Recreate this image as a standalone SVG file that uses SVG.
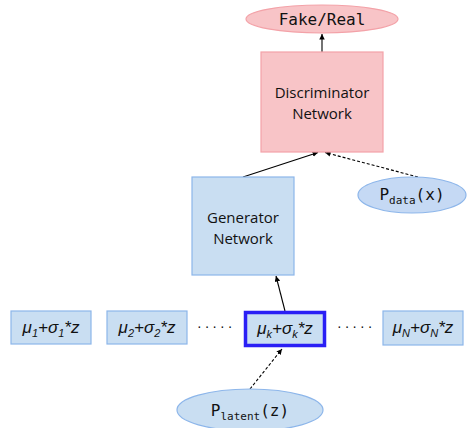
<svg xmlns="http://www.w3.org/2000/svg" width="467" height="428" viewBox="0 0 467 428">
<defs>
<marker id="ah" viewBox="0 0 10 10" refX="10" refY="5" markerWidth="5" markerHeight="5" orient="auto"><path d="M0,0 L10,5 L0,10 z" fill="#000"/></marker>
<style>
.pink{fill:#f8c4c7;stroke:#f3a2a8;stroke-width:1.2}
.blue{fill:#c9def2;stroke:#8db6ea;stroke-width:1.2}
.lbl{font-family:"Open Sans","Liberation Sans",sans-serif;font-size:15px;fill:#111;text-anchor:middle}
.mono{font-family:"DejaVu Sans Mono","Liberation Mono",monospace;font-size:16px;fill:#111;text-anchor:middle}
.math{font-family:"Liberation Sans",sans-serif;font-style:italic;font-size:17px;fill:#111;text-anchor:middle}
.dots{font-family:"Liberation Sans",sans-serif;font-size:14px;fill:#111;letter-spacing:3px}
.c{stroke:#000;stroke-width:1.1;fill:none}
.d{stroke-dasharray:3,2}
</style>
</defs>
<g id="connectors">
<line class="c" x1="322" y1="52" x2="322" y2="34" marker-end="url(#ah)"/>
<line class="c" x1="243" y1="177" x2="318" y2="152.5" marker-end="url(#ah)"/>
<line class="c d" x1="418" y1="177" x2="325" y2="152.5" marker-end="url(#ah)"/>
<line class="c" x1="285" y1="311" x2="276" y2="276" marker-end="url(#ah)"/>
<line class="c d" x1="250" y1="389" x2="282" y2="349" marker-end="url(#ah)"/>
</g>
<g id="fake-real">
<ellipse class="pink" cx="322" cy="19" rx="76" ry="14"/>
<text class="mono" x="322" y="24.5">Fake/Real</text>
</g>
<g id="discriminator">
<rect class="pink" x="261" y="52" width="122" height="100"/>
<text class="lbl" x="322" y="98">Discriminator</text>
<text class="lbl" x="322" y="119">Network</text>
</g>
<g id="generator">
<rect class="blue" x="192" y="177" width="102" height="98"/>
<text class="lbl" x="243" y="223">Generator</text>
<text class="lbl" x="243" y="244">Network</text>
</g>
<g id="p-data">
<ellipse cx="412" cy="195" rx="54" ry="18" fill="#c5d9f4" stroke="#8db6ea" stroke-width="1.2"/>
<text class="mono" x="412" y="200">P<tspan font-size="11" dy="4">data</tspan><tspan dy="-4">(x)</tspan></text>
</g>
<g id="box1">
<rect class="blue" x="11" y="311" width="80" height="33"/>
<text class="math" x="51" y="333">μ<tspan font-size="11" dy="4">1</tspan><tspan dy="-4">+σ</tspan><tspan font-size="11" dy="4">1</tspan><tspan dy="-4">*z</tspan></text>
</g>
<g id="box2">
<rect class="blue" x="107" y="311" width="80" height="33"/>
<text class="math" x="147" y="333">μ<tspan font-size="11" dy="4">2</tspan><tspan dy="-4">+σ</tspan><tspan font-size="11" dy="4">2</tspan><tspan dy="-4">*z</tspan></text>
</g>
<g id="dots1"><text class="dots" x="197" y="331">·····</text></g>
<g id="boxk">
<rect x="245.5" y="312.5" width="79" height="33" fill="#c9def2" stroke="#2a1ff5" stroke-width="3.5"/>
<text class="math" x="285" y="334">μ<tspan font-size="11" dy="4">k</tspan><tspan dy="-4">+σ</tspan><tspan font-size="11" dy="4">k</tspan><tspan dy="-4">*z</tspan></text>
</g>
<g id="dots2"><text class="dots" x="337" y="331">·····</text></g>
<g id="boxN">
<rect class="blue" x="383" y="311" width="80" height="34"/>
<text class="math" x="423" y="333">μ<tspan font-size="11" dy="4">N</tspan><tspan dy="-4">+σ</tspan><tspan font-size="11" dy="4">N</tspan><tspan dy="-4">*z</tspan></text>
</g>
<g id="p-latent">
<ellipse class="blue" cx="250" cy="410" rx="73" ry="21"/>
<text class="mono" x="250" y="416">P<tspan font-size="11" dy="4">latent</tspan><tspan dy="-4">(z)</tspan></text>
</g>
</svg>
